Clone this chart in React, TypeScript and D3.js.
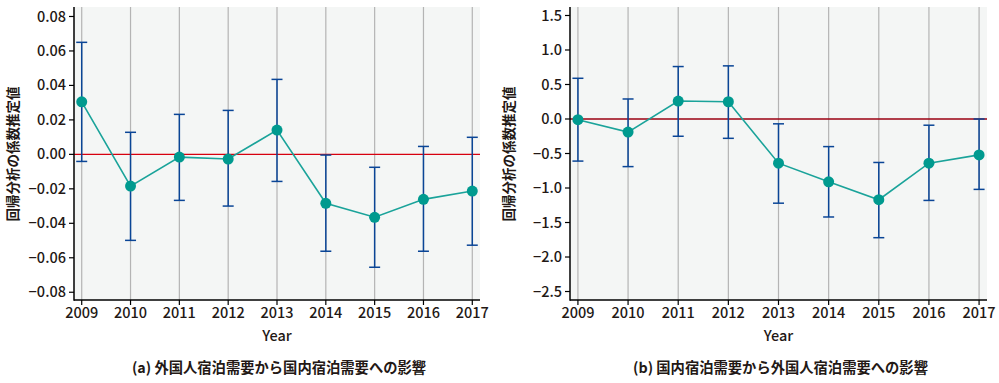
import React from "react";
import * as d3 from "d3";

const years = [2009, 2010, 2011, 2012, 2013, 2014, 2015, 2016, 2017];

const estA = [0.0305, -0.0184, -0.0016, -0.0027, 0.0141, -0.0284, -0.0365, -0.0261, -0.0213];
const upA = [0.065, 0.0128, 0.0232, 0.0255, 0.0435, -0.0004, -0.0075, 0.0046, 0.0099];
const loA = [-0.0041, -0.0499, -0.0267, -0.030, -0.0157, -0.0562, -0.0655, -0.0562, -0.0527];
const ticksA = [0.08, 0.06, 0.04, 0.02, 0.0, -0.02, -0.04, -0.06, -0.08];

const estB = [-0.01, -0.19, 0.26, 0.25, -0.64, -0.91, -1.17, -0.64, -0.52];
const upB = [0.59, 0.29, 0.76, 0.77, -0.07, -0.40, -0.63, -0.09, 0.0];
const loB = [-0.61, -0.69, -0.25, -0.28, -1.22, -1.42, -1.72, -1.18, -1.02];
const ticksB = [1.5, 1.0, 0.5, 0.0, -0.5, -1.0, -1.5, -2.0, -2.5];

const yTitle = "回帰分析の係数推定値";
const xTitle = "Year";
const captionA = "(a) 外国人宿泊需要から国内宿泊需要への影響";
const captionB = "(b) 国内宿泊需要から外国人宿泊需要への影響";

const FONT = "'Noto Sans CJK JP', 'Noto Sans', sans-serif";
const TEXT = "#231815";

type PanelProps = {
  left: number;
  right: number;
  yDomain: [number, number];
  est: number[];
  up: number[];
  lo: number[];
  ticks: number[];
  fmt: (v: number) => string;
  zeroColor: string;
  caption: string;
};

function Panel(p: PanelProps) {
  const top = 7;
  const bottom = 300;
  const pad = (p.right - p.left) * 0.019;
  const x = d3.scaleLinear().domain([2009, 2017]).range([p.left + pad, p.right - pad]);
  const y = d3.scaleLinear().domain(p.yDomain).range([bottom, top]);
  const line = d3
    .line<number>()
    .x((_, i) => x(years[i]))
    .y((d) => y(d));
  const cx = (p.left + p.right) / 2;
  return (
    <g>
      <rect x={p.left} y={top} width={p.right - p.left} height={bottom - top} fill="#f4f6f5" />
      {years.map((yr) => (
        <line key={"g" + yr} x1={x(yr)} x2={x(yr)} y1={top} y2={bottom} stroke="#b4b4b4" strokeWidth={1.2} />
      ))}
      <line x1={p.left} x2={p.right} y1={y(0)} y2={y(0)} stroke={p.zeroColor} strokeWidth={1.3} />
      {years.map((yr, i) => (
        <g key={"e" + yr} stroke="#0a4596" strokeWidth={1.5}>
          <line x1={x(yr)} x2={x(yr)} y1={y(p.up[i])} y2={y(p.lo[i])} />
          <line x1={x(yr) - 5.5} x2={x(yr) + 5.5} y1={y(p.up[i])} y2={y(p.up[i])} />
          <line x1={x(yr) - 5.5} x2={x(yr) + 5.5} y1={y(p.lo[i])} y2={y(p.lo[i])} />
        </g>
      ))}
      <path d={line(p.est) || ""} fill="none" stroke="#1aa39a" strokeWidth={1.6} />
      {years.map((yr, i) => (
        <circle key={"c" + yr} cx={x(yr)} cy={y(p.est[i])} r={5.5} fill="#009a8f" />
      ))}
      {/* axes */}
      <line x1={p.left} x2={p.left} y1={top} y2={bottom + 0.75} stroke="#000" strokeWidth={1.5} />
      <line x1={p.left} x2={p.right} y1={bottom} y2={bottom} stroke="#000" strokeWidth={1.5} />
      {p.ticks.map((t) => (
        <g key={"t" + t}>
          <line x1={p.left - 5} x2={p.left} y1={y(t)} y2={y(t)} stroke="#000" strokeWidth={1.2} />
          <text x={p.left - 8} y={y(t)} dy="0.35em" textAnchor="end" fontSize={14.5} fontWeight={500} fill={TEXT} fontFamily={FONT}>
            {p.fmt(t)}
          </text>
        </g>
      ))}
      {years.map((yr) => (
        <g key={"x" + yr}>
          <line x1={x(yr)} x2={x(yr)} y1={bottom} y2={bottom + 5} stroke="#000" strokeWidth={1.2} />
          <text x={x(yr)} y={318} textAnchor="middle" fontSize={14.5} fontWeight={500} fill={TEXT} fontFamily={FONT}>
            {yr}
          </text>
        </g>
      ))}
      <text x={cx} y={341} textAnchor="middle" fontSize={14.5} fontWeight={500} fill={TEXT} fontFamily={FONT}>
        {xTitle}
      </text>
      <text
        transform={`translate(${p.left - 61},154) rotate(-90)`}
        textAnchor="middle"
        dy="0.35em"
        fontSize={13.5}
        fontWeight={700}
        fill={TEXT}
        fontFamily={FONT}
      >
        {yTitle}
      </text>
      <text x={cx + 2} y={373} textAnchor="middle" fontSize={14.3} fontWeight={700} fill={TEXT} fontFamily={FONT}>
        {p.caption}
      </text>
    </g>
  );
}

export default function App() {
  const minus = (s: string) => s.replace("-", "\u2212");
  const fA = (v: number) => minus(d3.format(".2f")(Math.abs(v) < 1e-9 ? 0 : v));
  const fB = (v: number) => minus(d3.format(".1f")(Math.abs(v) < 1e-9 ? 0 : v));
  return (
    <svg
      width={999}
      height={383}
      style={{ position: "absolute", left: 0, top: 0, background: "#fff" }}
    >
      <Panel
        left={74}
        right={480}
        yDomain={[-0.0845, 0.0855]}
        est={estA}
        up={upA}
        lo={loA}
        ticks={ticksA}
        fmt={fA}
        zeroColor="#d7000f"
        caption={captionA}
      />
      <Panel
        left={570}
        right={987}
        yDomain={[-2.623, 1.623]}
        est={estB}
        up={upB}
        lo={loB}
        ticks={ticksB}
        fmt={fB}
        zeroColor="#9b0010"
        caption={captionB}
      />
    </svg>
  );
}
